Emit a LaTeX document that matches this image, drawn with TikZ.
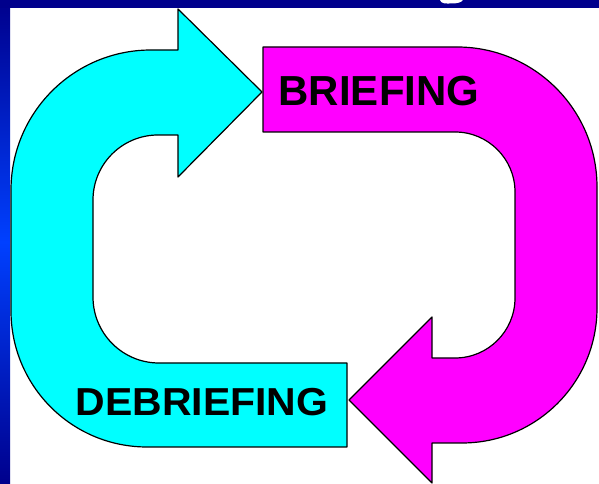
\documentclass[tikz,border=0pt]{standalone}
\usepackage{fontspec}
\setmainfont{Liberation Sans}
\definecolor{navy}{RGB}{0,0,140}
\definecolor{brightblue}{RGB}{0,64,255}
\definecolor{cyanfill}{RGB}{0,255,255}
\definecolor{magfill}{RGB}{255,0,255}
\tikzset{
  bentarrow/.style={draw=black, line width=1.2pt, line join=round},
  label/.style={font=\bfseries\fontsize{42}{42}\selectfont, inner sep=0pt}
}
\begin{document}
\begin{tikzpicture}[x=1pt,y=1pt]
\useasboundingbox (0,0) rectangle (599,484);
% background
\fill[white] (0,0) rectangle (599,484);
\shade[top color=navy, bottom color=navy, middle color=brightblue] (0,0) rectangle (10,484);
\fill[navy] (0,476) rectangle (599,484);
\fill[white] (440,484) .. controls (441,480) and (446,480.5) .. (451,480.5) .. controls (456,480.5) and (461,481) .. (463,484) -- cycle;
% cyan bent arrow (debriefing)
\draw[bentarrow, fill=cyanfill]
  (347,37) -- (147,37) arc[start angle=270, end angle=180, radius=136]
  -- (11,294) arc[start angle=180, end angle=90, radius=140]
  -- (178,434) -- (178,475) -- (262,392) -- (178,307) -- (178,349)
  -- (158,349) arc[start angle=90, end angle=180, radius=65]
  -- (93,187) arc[start angle=180, end angle=270, radius=66]
  -- (347,121) -- cycle;
% magenta bent arrow (briefing)
\draw[bentarrow, fill=magfill]
  (263,437) -- (457,437) arc[start angle=90, end angle=0, radius=140]
  -- (597,176) arc[start angle=0, end angle=-90, radius=135]
  -- (432,41) -- (432,1) -- (349,84) -- (432,167) -- (432,126)
  -- (455,126) arc[start angle=-90, end angle=0, radius=60]
  -- (515,292) arc[start angle=0, end angle=90, radius=60]
  -- (263,352) -- cycle;
% labels
\node[label] (brief) at (379,393) {BRIEFING};
\node[label, xscale=1.05, font=\bfseries\fontsize{39}{39}\selectfont] (debrief) at (202,82) {DEBRIEFING};
\end{tikzpicture}
\end{document}
